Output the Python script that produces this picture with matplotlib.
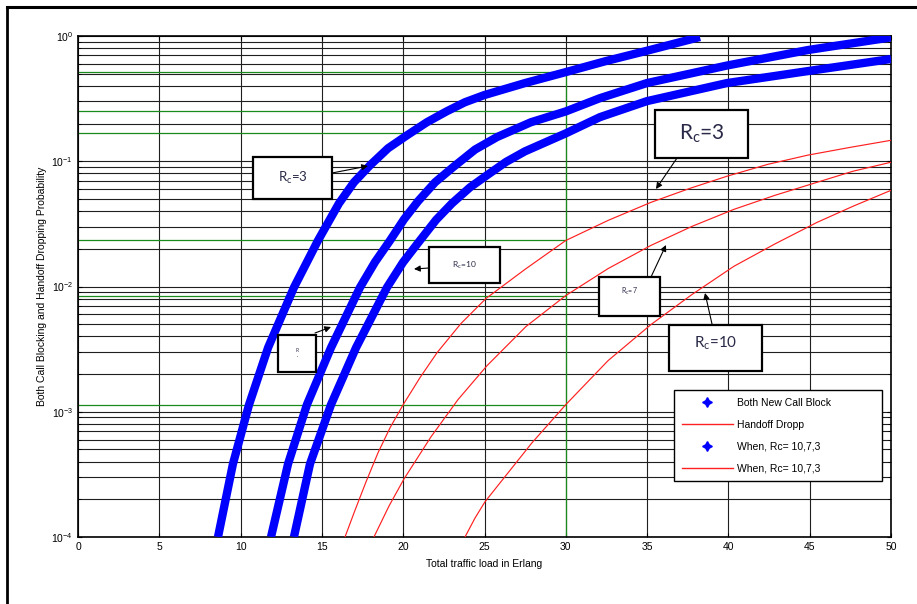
import matplotlib
matplotlib.use("Agg")
import matplotlib.pyplot as plt
from matplotlib.lines import Line2D
from matplotlib.patches import Rectangle

plt.rcParams["font.family"] = ["Liberation Sans", "DejaVu Sans"]

# Blocking probability of new calls (blue) and handoff dropping (red)
# traffic load in Erlang -> probability
blue_rc3_x = [8.61, 9.53, 10.52, 11.69, 13.28, 14.76, 16.05, 16.97, 17.96, 19.07, 20.23, 21.46, 22.69, 23.8, 24.97,
              27.49, 30.0, 32.47, 34.93, 38.25]
blue_rc3_y = [1.0e-4, 3.84e-4, 1.14e-3, 3.25e-3, 9.82e-3, 0.0233, 0.0461, 0.0679, 0.0929, 0.127, 0.161, 0.205, 0.251,
              0.296, 0.337, 0.421, 0.515, 0.631, 0.759, 0.982]

blue_rc7_x = [11.87, 12.92, 14.08, 15.56, 17.34, 18.27, 19.19, 20.05, 20.91, 21.96, 23.06, 24.42, 25.77, 27.86, 30.0,
              32.1, 34.99, 39.91, 44.9, 50.0]
blue_rc7_y = [1.0e-4, 3.84e-4, 1.14e-3, 3.25e-3, 9.82e-3, 0.0157, 0.0233, 0.0344, 0.0479, 0.0679, 0.0895, 0.124, 0.156,
              0.205, 0.25, 0.319, 0.421, 0.581, 0.773, 0.975]

blue_rc10_x = [13.28, 14.27, 15.56, 17.10, 19.0, 19.99, 21.03, 22.02, 23.0, 24.11, 25.15, 26.32, 27.49, 30.0, 32.1,
               34.99, 39.91, 44.9, 50.0]
blue_rc10_y = [1.0e-4, 3.84e-4, 1.14e-3, 3.25e-3, 9.82e-3, 0.0156, 0.0233, 0.034, 0.0461, 0.0619, 0.0773, 0.0987,
               0.120, 0.167, 0.225, 0.302, 0.421, 0.525, 0.655]

red_rc3_x = [16.42, 17.04, 17.71, 18.45, 19.19, 20.0, 21.03, 22.08, 23.55, 25.09, 27.49, 30.0, 32.6, 35.24, 37.64,
             39.91, 42.44, 44.9, 47.48, 50.0]
red_rc3_y = [1.0e-4, 1.64e-4, 2.75e-4, 4.7e-4, 7.45e-4, 1.14e-3, 1.87e-3, 2.96e-3, 5.06e-3, 8.02e-3, 0.0137, 0.0233,
             0.0337, 0.047, 0.0608, 0.0759, 0.0946, 0.112, 0.129, 0.147]

red_rc7_x = [18.2, 19.13, 20.05, 21.71, 23.37, 25.15, 27.55, 30.0, 32.6, 35.24, 37.76, 40.34, 42.87, 45.45, 47.66, 50.0]
red_rc7_y = [1.0e-4, 1.77e-4, 2.91e-4, 6.31e-4, 1.25e-3, 2.33e-3, 4.79e-3, 8.47e-3, 0.0139, 0.0213, 0.0302, 0.0413,
             0.0535, 0.0679, 0.0832, 0.0982]

red_rc10_x = [23.8, 24.42, 25.03, 25.95, 27.92, 30.0, 32.6, 35.24, 37.76, 40.34, 42.87, 45.45, 47.66, 50.0]
red_rc10_y = [1.0e-4, 1.42e-4, 1.91e-4, 2.7e-4, 5.65e-4, 1.14e-3, 2.56e-3, 4.97e-3, 8.63e-3, 0.0145, 0.0219, 0.0325,
              0.0437, 0.0586]

ref_load = 30.0
x_ticks = [0, 5, 10, 15, 20, 25, 30, 35, 40, 45, 50]
legend_labels = ["Both New Call Block", "Handoff Dropp", "When, Rc= 10,7,3", "When, Rc= 10,7,3"]

W, H = 917, 604
fig = plt.figure(figsize=(W / 100, H / 100), dpi=100)
ax = fig.add_axes([78 / W, 1 - 537 / H, 813 / W, 501 / H])


def fp(x, y):
    # figure pixel (from top-left) -> figure fraction
    return (x / W, 1 - y / H)


ax.set_yscale("log")
ax.set_xlim(0, 50)
ax.set_ylim(1e-4, 1)
ax.set_xticks(x_ticks)
ax.set_axisbelow(True)
ax.grid(True, which="both", color="0.12", lw=0.8)
ax.tick_params(which="both", direction="in", labelsize=7.5, top=True, right=True)
ax.tick_params(which="major", length=3)
ax.tick_params(which="minor", length=2)
for s in ax.spines.values():
    s.set_linewidth(1.2)

# green reference lines at the chosen load
blue_series = [(blue_rc3_x, blue_rc3_y), (blue_rc7_x, blue_rc7_y), (blue_rc10_x, blue_rc10_y)]
red_series = [(red_rc3_x, red_rc3_y), (red_rc7_x, red_rc7_y), (red_rc10_x, red_rc10_y)]
ref_vals = [ys[xs.index(ref_load)] for xs, ys in blue_series + red_series]
ax.hlines(ref_vals, 0, ref_load, color="#1a8a1a", lw=0.9, zorder=1.5)
ax.vlines(ref_load, 1e-4, max(ref_vals), color="#1a8a1a", lw=0.9, zorder=1.5)

for xs, ys in blue_series:
    ax.plot(xs, ys, color="#0000ff", lw=6, solid_capstyle="butt", solid_joinstyle="round", zorder=3)
for xs, ys in red_series:
    ax.plot(xs, ys, color="#ff2020", lw=0.85, zorder=3)

ax.set_xlabel("Total traffic load in Erlang", fontsize=7.5, labelpad=5)
ax.set_ylabel("Both Call Blocking and Handoff Dropping Probability", fontsize=7.5, labelpad=3)

# legend
handles = [
    Line2D([], [], color="#0000ff", marker=(4, 1, 0), ms=7, ls="none"),
    Line2D([], [], color="#ff2020", lw=1),
    Line2D([], [], color="#0000ff", marker=(4, 1, 0), ms=7, ls="none"),
    Line2D([], [], color="#ff2020", lw=1),
]
leg = ax.legend(handles, legend_labels, loc="upper left", bbox_to_anchor=(0.727, 0.303, 0.268, 0.0),
                mode="expand", fontsize=7.5, labelspacing=1.15, handlelength=4.9, handletextpad=0.4,
                borderpad=0.7, fancybox=False, framealpha=1, edgecolor="black")
leg.get_frame().set_linewidth(1.0)
leg.set_zorder(6)


def label_box(x0, y0, x1, y1, text, size, start, end, dy=0):
    ax.add_patch(Rectangle(fp(x0, y1), (x1 - x0) / W, (y1 - y0) / H, transform=fig.transFigure,
                           fc="white", ec="black", lw=1.6, zorder=7, clip_on=False))
    ax.text(*fp((x0 + x1) / 2, (y0 + y1) / 2 + dy), text, transform=fig.transFigure,
            ha="center", va="center", fontsize=size, color="#2a2a48",
            family=["Lato", "DejaVu Sans"], zorder=8)
    ax.annotate("", xy=fp(*end), xytext=fp(*start), xycoords="figure fraction",
                arrowprops=dict(arrowstyle="-|>", color="black", lw=0.8, mutation_scale=9,
                                shrinkA=0, shrinkB=0), zorder=8)


label_box(253, 157, 332, 199, r"R$_\mathregular{c}$=3", 9.5, (332, 173), (368, 166))
label_box(429, 247, 500, 283, r"R$_\mathregular{c}$=10", 6, (429, 268), (414, 269))
label_box(278, 335, 316, 372, "R\n\u00b7", 3.5, (315, 333), (331, 327))
label_box(655, 110, 748, 158, r"R$_\mathregular{c}$=3", 15, (677, 158), (656, 189))
label_box(599, 277, 660, 316, r"R$_\mathregular{c}$=7", 5, (651, 277), (666, 245), dy=-5)
label_box(669, 325, 762, 371, r"R$_\mathregular{c}$=10", 11, (712, 324), (705, 293), dy=-5)

# page frame lines
fig.add_artist(Line2D([fp(7, 0)[0], fp(7, 0)[0]], [fp(0, 7)[1], 0], color="black", lw=2))
fig.add_artist(Line2D([fp(7, 0)[0], 1], [fp(0, 7)[1], fp(0, 7)[1]], color="black", lw=2.2))

fig.savefig("out.png", dpi=100, facecolor="white")
